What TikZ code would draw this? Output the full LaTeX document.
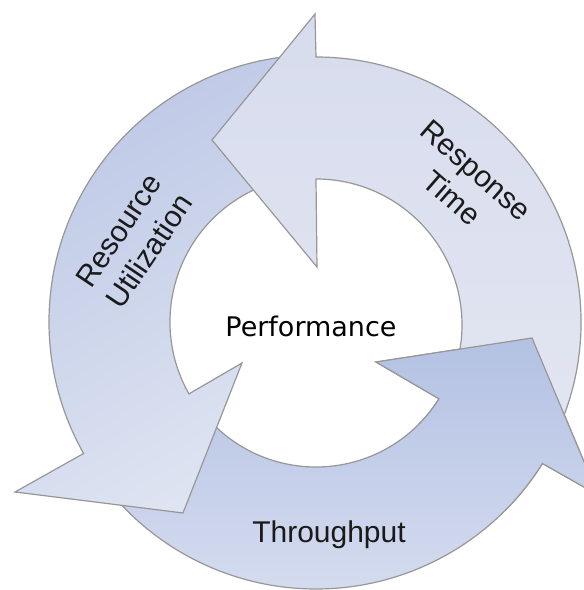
\documentclass[tikz,border=0pt]{standalone}
\usepackage{fontspec}
\setmainfont{Liberation Sans}
\newfontfamily\perffont{DejaVu Sans}
\definecolor{outl}{HTML}{979797}
\definecolor{rtA}{HTML}{D7DCEE}
\definecolor{rtB}{HTML}{E3E6F1}
\definecolor{ruA}{HTML}{BDC8E6}
\definecolor{ruB}{HTML}{DEE4F1}
\definecolor{tpA}{HTML}{B3C1E3}
\definecolor{tpB}{HTML}{D5DCEF}
\definecolor{txt}{HTML}{1A1A1A}
\begin{document}
\begin{tikzpicture}[x=1pt,y=1pt,
  arrowshape/.style={draw=outl, line width=1.2pt, line join=miter},
  rtfill/.style={top color=rtA, bottom color=rtB},
  rufill/.style={top color=ruA, bottom color=ruB, shading angle=30},
  tpfill/.style={top color=tpA, bottom color=tpB},
  lbl/.style={font=\fontsize{30}{37}\selectfont, text=txt, inner sep=0pt, align=center}]
\useasboundingbox (0,0) rectangle (584,590);
\begin{scope}[shift={(316,268)}]
  % Throughput arrow (full)
  \path[arrowshape, tpfill]
    (215:145) -- (215:267) arc[start angle=215, end angle=328, radius=267]
    -- (282,-173) -- (216,-16) -- (60,-40) -- (328:145)
    arc[start angle=328, end angle=215, radius=145] -- cycle;
  % Resource Utilization arrow
  \path[arrowshape, rufill]
    (92:146) -- (92:267) arc[start angle=92, end angle=209.5, radius=267]
    -- (-301,-170) -- (-133,-191) -- (-74,-41) -- (209.5:146)
    arc[start angle=209.5, end angle=92, radius=146] -- cycle;
  % Response Time arrow
  \path[arrowshape, rtfill]
    (-28:146) -- (-28:265) arc[start angle=-28, end angle=90, radius=265]
    -- (-1,308) -- (-104,182) -- (1,55) -- (90:143)
    arc[start angle=90, end angle=-28, radius=146] -- cycle;
  % Throughput head again, on top of the Response Time tail
  \begin{scope}
    \clip (0,0) -- (-45:420) -- (-20:420) -- (12:420) -- cycle;
    \path[arrowshape, tpfill]
      (215:145) -- (215:267) arc[start angle=215, end angle=328, radius=267]
      -- (282,-173) -- (216,-16) -- (60,-40) -- (328:145)
      arc[start angle=328, end angle=215, radius=145] -- cycle;
  \end{scope}
  \node[lbl, rotate=56] (ru) at (-182,81) {Resource\\Utilization};
  \node[lbl, rotate=-41] (rt) at (148,138) {Response\\Time};
  \node[lbl, anchor=base] (tp) at (13,-220) {Throughput};
  \node[anchor=base, inner sep=0pt, text=black, font=\perffont\fontsize{27}{32}\selectfont] (perf) at (-5,-15) {Performance};
\end{scope}
\end{tikzpicture}
\end{document}
